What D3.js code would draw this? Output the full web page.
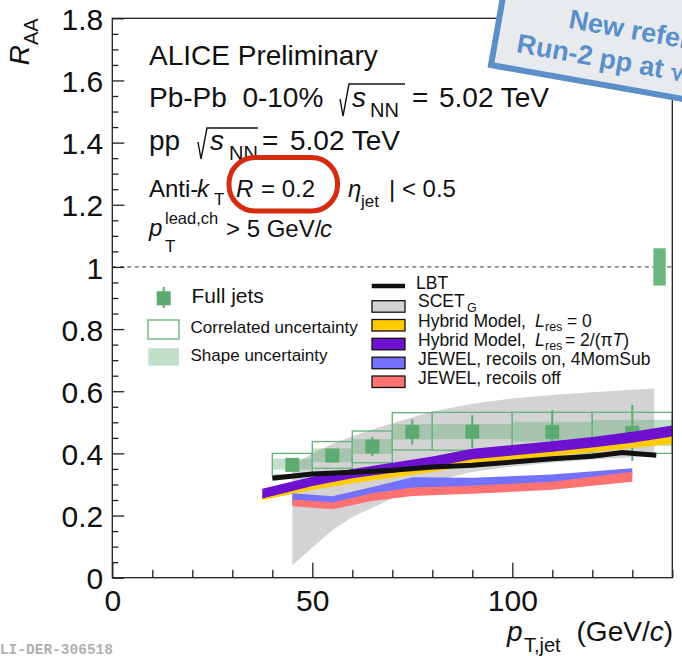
<!DOCTYPE html>
<html>
<head>
<meta charset="utf-8">
<script src="https://cdn.jsdelivr.net/npm/d3@7"></script>
<style>
  body { margin: 0; background: #fff; }
  svg { display: block; }
</style>
</head>
<body>
<svg id="chart" width="682" height="656"></svg>
<script>
// ---- Full-jet R_AA, 0-10% Pb-Pb, R = 0.2 ----
const binEdges = [40, 50, 60, 70, 80, 100, 120, 140];
const ptJet    = [45, 55, 65, 75, 90, 110, 130];
const raa      = [0.363, 0.393, 0.422, 0.469, 0.470, 0.469, 0.466];
const statErr  = [0.008, 0.012, 0.031, 0.040, 0.053, 0.070, 0.090];
const corrLow  = [0.330, 0.352, 0.370, 0.411, 0.410, 0.402, 0.400];
const corrHigh = [0.400, 0.438, 0.472, 0.531, 0.532, 0.532, 0.532];
const shapeLow  = [0.348, 0.372, 0.398, 0.445, 0.446, 0.438, 0.424];
const shapeHigh = [0.383, 0.416, 0.446, 0.494, 0.494, 0.502, 0.508];

// normalisation uncertainty at R_AA = 1
const normX = [135.25, 138.35];
const normY = [0.94, 1.06];

// ---- model curves ----
const lbtPt  = [40, 50, 60, 70, 80, 90, 100, 110, 120, 127.5, 136];
const lbtVal = [0.320, 0.334, 0.339, 0.346, 0.356, 0.362, 0.372, 0.383, 0.391, 0.403, 0.394];

const scetPt = [45, 50, 55, 60, 65, 70, 80, 90, 100, 110, 120, 135.5];
const scetLo = [0.040, 0.097, 0.153, 0.195, 0.225, 0.255, 0.310, 0.340, 0.358, 0.370, 0.380, 0.392];
const scetHi = [0.360, 0.400, 0.430, 0.455, 0.477, 0.497, 0.535, 0.560, 0.577, 0.588, 0.597, 0.609];

const hybPt   = [37.5, 50, 60, 70, 80, 90, 100, 110, 120, 130, 140];
const hyb0Lo  = [0.250, 0.282, 0.304, 0.322, 0.340, 0.362, 0.377, 0.391, 0.404, 0.417, 0.430];
const hyb0Hi  = [0.280, 0.312, 0.334, 0.354, 0.372, 0.394, 0.409, 0.423, 0.436, 0.449, 0.462];
const hyb2Lo  = [0.255, 0.295, 0.320, 0.338, 0.356, 0.381, 0.393, 0.405, 0.419, 0.434, 0.454];
const hyb2Hi  = [0.286, 0.325, 0.350, 0.370, 0.390, 0.415, 0.427, 0.439, 0.453, 0.470, 0.490];

const jewelPt    = [45, 55, 65, 75, 90, 110, 130];
const jewelOnLo  = [0.240, 0.230, 0.255, 0.280, 0.285, 0.298, 0.330];
const jewelOnHi  = [0.272, 0.262, 0.292, 0.323, 0.322, 0.332, 0.352];
const jewelOffLo = [0.230, 0.220, 0.247, 0.263, 0.270, 0.283, 0.309];
const jewelOffHi = [0.252, 0.242, 0.272, 0.290, 0.296, 0.309, 0.341];

// ---- axis ticks ----
const yMajor = [0, 0.2, 0.4, 0.6, 0.8, 1.0, 1.2, 1.4, 1.6, 1.8];
const xMajor = [0, 50, 100];

// ---- colours ----
const GREEN = "#5eab72";
const GREEN_LINE = "#6ab67e";
const C_SCET = "#d3d3d3";
const C_HYB0 = "#ffcc00";
const C_HYB2 = "#6d10cf";
const C_JON  = "#7272ff";
const C_JOFF = "#ff7272";
const FONT = "'Liberation Sans', Arial, Helvetica, sans-serif";

const svg = d3.select("#chart");
const x = d3.scaleLinear().domain([0, 140]).range([112.3, 672.3]);
const y = d3.scaleLinear().domain([0, 1.8]).range([577.7, 18.3]);

const band = d3.area().x(d => x(d.x)).y0(d => y(d.lo)).y1(d => y(d.hi));
const zipBand = (xs, lo, hi) => xs.map((v, i) => ({ x: v, lo: lo[i], hi: hi[i] }));

// reference line at R_AA = 1
svg.append("line")
  .attr("x1", x(0)).attr("x2", x(140))
  .attr("y1", y(1)).attr("y2", y(1))
  .attr("stroke", "#333").attr("stroke-width", 1)
  .attr("stroke-dasharray", "4,3.5");

// SCET_G band (drawn underneath everything)
svg.append("path").datum(zipBand(scetPt, scetLo, scetHi))
  .attr("d", band).attr("fill", C_SCET);

// data: shape uncertainty, correlated boxes, markers
const bins = ptJet.map((p, i) => ({
  x0: binEdges[i], x1: binEdges[i + 1], p, v: raa[i], e: statErr[i],
  cl: corrLow[i], ch: corrHigh[i], sl: shapeLow[i], sh: shapeHigh[i]
}));

svg.append("g").selectAll("rect").data(bins).join("rect")
  .attr("x", d => x(d.x0)).attr("width", d => x(d.x1) - x(d.x0))
  .attr("y", d => y(d.sh)).attr("height", d => y(d.sl) - y(d.sh))
  .attr("fill", GREEN).attr("fill-opacity", 0.38);

svg.append("g").selectAll("rect").data(bins).join("rect")
  .attr("x", d => x(d.x0)).attr("width", d => x(d.x1) - x(d.x0))
  .attr("y", d => y(d.ch)).attr("height", d => y(d.cl) - y(d.ch))
  .attr("fill", "none").attr("stroke", GREEN_LINE).attr("stroke-width", 1.4);

svg.append("g").selectAll("line").data(bins).join("line")
  .attr("x1", d => x(d.p)).attr("x2", d => x(d.p))
  .attr("y1", d => y(d.v + d.e)).attr("y2", d => y(d.v - d.e))
  .attr("stroke", GREEN).attr("stroke-width", 2);

const MS = 14;
svg.append("g").selectAll("rect").data(bins).join("rect")
  .attr("x", d => x(d.p) - MS / 2).attr("y", d => y(d.v) - MS / 2)
  .attr("width", MS).attr("height", MS).attr("fill", GREEN);

// normalisation box
svg.append("rect")
  .attr("x", x(normX[0])).attr("width", x(normX[1]) - x(normX[0]))
  .attr("y", y(normY[1])).attr("height", y(normY[0]) - y(normY[1]))
  .attr("fill", "#6cb780");

// model bands
svg.append("path").datum(zipBand(hybPt, hyb0Lo, hyb0Hi)).attr("d", band).attr("fill", C_HYB0);
svg.append("path").datum(zipBand(hybPt, hyb2Lo, hyb2Hi)).attr("d", band).attr("fill", C_HYB2);
svg.append("path").datum(zipBand(jewelPt, jewelOnLo, jewelOnHi)).attr("d", band).attr("fill", C_JON);
svg.append("path").datum(zipBand(jewelPt, jewelOffLo, jewelOffHi)).attr("d", band).attr("fill", C_JOFF);

// LBT line
svg.append("path").datum(lbtPt.map((p, i) => ({ x: p, v: lbtVal[i] })))
  .attr("d", d3.line().x(d => x(d.x)).y(d => y(d.v)))
  .attr("fill", "none").attr("stroke", "#111").attr("stroke-width", 5);

// ---- axes ----
const AX = "#222";
const yMinor = d3.range(0, 37).map(i => i * 0.05).filter(v => Math.abs(v * 5 - Math.round(v * 5)) > 1e-6);
const xMinor = d3.range(0, 15).map(i => i * 10).filter(v => v % 50 !== 0);

const gy = svg.append("g").attr("transform", `translate(${x(0)},0)`)
  .call(d3.axisLeft(y).tickValues(yMajor).tickSize(-12).tickPadding(9).tickFormat(d3.format("~g")));
gy.append("g").call(d3.axisLeft(y).tickValues(yMinor).tickSize(-6).tickFormat(""));
const gx = svg.append("g").attr("transform", `translate(0,${y(0)})`)
  .call(d3.axisBottom(x).tickValues(xMajor).tickSize(-15).tickPadding(12.5).tickFormat(d3.format("d")));
gx.append("g").call(d3.axisBottom(x).tickValues(xMinor).tickSize(-8).tickFormat(""));

[gx, gy].forEach(g => {
  g.selectAll(".domain").remove();
  g.selectAll("line").attr("stroke", AX).attr("stroke-width", 1.3);
  g.selectAll("text").attr("font-size", 30).attr("font-family", FONT).attr("fill", "#111");
});
gy.selectAll("text").attr("dy", "0.37em");

// frame
svg.append("rect")
  .attr("x", x(0)).attr("y", y(1.8))
  .attr("width", x(140) - x(0)).attr("height", y(0) - y(1.8))
  .attr("fill", "none").attr("stroke", AX).attr("stroke-width", 1.3);

// axis titles
svg.append("text")
  .attr("transform", `translate(29,${y(1.8)}) rotate(-90)`)
  .attr("text-anchor", "end").attr("font-family", FONT).attr("fill", "#111")
  .call(t => {
    t.append("tspan").attr("font-size", 28).attr("font-style", "italic").text("R");
    t.append("tspan").attr("font-size", 20).attr("dy", 9).text("AA");
  });

const xt = svg.append("g").attr("font-family", FONT).attr("fill", "#111");
xt.append("text").attr("x", 507).attr("y", 641).attr("font-size", 28).attr("font-style", "italic").text("p");
xt.append("text").attr("x", 524).attr("y", 652).attr("font-size", 20).text("T,jet");
xt.append("text").attr("x", 673).attr("y", 641).attr("font-size", 28).attr("text-anchor", "end")
  .call(t => {
    t.append("tspan").text("(GeV/");
    t.append("tspan").attr("font-style", "italic").text("c");
    t.append("tspan").text(")");
  });

// ---- header text ----
const hdr = svg.append("g").attr("font-family", FONT).attr("fill", "#111");
function txt(g, s, xx, yy, size, italic) {
  return g.append("text").attr("x", xx).attr("y", yy).attr("font-size", size)
    .attr("font-style", italic ? "italic" : "normal").text(s);
}
function radical(g, x0, x1, base, h) {
  g.append("path")
    .attr("d", `M${x0},${base - 8} L${x0 + 3},${base + 9} L${x0 + 9},${base - h} L${x1},${base - h}`)
    .attr("fill", "none").attr("stroke", "#111").attr("stroke-width", 1.4);
}

txt(hdr, "ALICE Preliminary", 149, 65, 28);

txt(hdr, "Pb-Pb  0-10%", 149, 107, 28).attr("xml:space", "preserve");
radical(hdr, 340, 405, 107, 23);
txt(hdr, "s", 352, 107, 28, true);
txt(hdr, "NN", 370, 117, 20);
txt(hdr, "=", 412, 107, 28);
txt(hdr, "5.02 TeV", 439, 107, 28);

txt(hdr, "pp", 149, 150, 28);
radical(hdr, 198, 258, 150, 22);
txt(hdr, "s", 210, 150, 28, true);
txt(hdr, "NN", 229, 160, 20);
txt(hdr, "=", 262, 150, 28);
txt(hdr, "5.02 TeV", 290, 150, 28);

txt(hdr, "Anti-", 149, 197, 24);
txt(hdr, "k", 197, 197, 24, true);
txt(hdr, "T", 214, 205, 17);
txt(hdr, "R", 236, 197, 24, true);
txt(hdr, "= 0.2", 261, 197, 24);
txt(hdr, "\u03b7", 348, 197, 24, true);
txt(hdr, "jet", 361, 207, 17);
txt(hdr, "| < 0.5", 389, 197, 24).attr("xml:space", "preserve");

txt(hdr, "p", 149, 236, 24, true);
txt(hdr, "lead,ch", 165, 224, 16.5);
txt(hdr, "T", 165, 252, 17);
txt(hdr, "> 5 GeV/", 226, 237, 24);
txt(hdr, "c", 320, 237, 24, true);

// ---- legend: data ----
const lg = svg.append("g").attr("font-family", FONT).attr("fill", "#111");
lg.append("line").attr("x1", 163.7).attr("x2", 163.7).attr("y1", 287).attr("y2", 308)
  .attr("stroke", GREEN).attr("stroke-width", 2);
lg.append("rect").attr("x", 163.7 - 7).attr("y", 298.3 - 7).attr("width", 14).attr("height", 14).attr("fill", GREEN);
txt(lg, "Full jets", 191.5, 302.5, 21);
lg.append("rect").attr("x", 148).attr("y", 320).attr("width", 31).attr("height", 19)
  .attr("fill", "none").attr("stroke", GREEN_LINE).attr("stroke-width", 1.4);
txt(lg, "Correlated uncertainty", 190.5, 332.7, 17);
lg.append("rect").attr("x", 148.3).attr("y", 348.3).attr("width", 30.7).attr("height", 17.4)
  .attr("fill", GREEN).attr("fill-opacity", 0.38);
txt(lg, "Shape uncertainty", 190.5, 360.7, 17);

// ---- legend: models ----
const lm = svg.append("g").attr("font-family", FONT).attr("fill", "#111");
lm.append("line").attr("x1", 371.7).attr("x2", 405).attr("y1", 286).attr("y2", 286)
  .attr("stroke", "#111").attr("stroke-width", 4.3);
txt(lm, "LBT", 416, 288.5, 17.5);
const modelBoxes = [
  { c: C_SCET, y: 300.7 }, { c: C_HYB0, y: 319.5 }, { c: C_HYB2, y: 338.3 },
  { c: C_JON, y: 357.2 }, { c: C_JOFF, y: 376 }
];
lm.selectAll("rect").data(modelBoxes).join("rect")
  .attr("x", 372).attr("y", d => d.y).attr("width", 33).attr("height", 11.5)
  .attr("fill", d => d.c).attr("stroke", "#111").attr("stroke-width", 1.3);
txt(lm, "SCET", 418, 306.5, 17.5);
txt(lm, "G", 467, 312, 12.5);
txt(lm, "Hybrid Model, ", 418, 327, 17.5).attr("xml:space", "preserve");
txt(lm, "L", 535, 327, 17.5, true);
txt(lm, "res", 545, 331, 12.5);
txt(lm, "= 0", 567, 327, 17.5);
txt(lm, "Hybrid Model, ", 418, 346, 17.5).attr("xml:space", "preserve");
txt(lm, "L", 535, 346, 17.5, true);
txt(lm, "res", 545, 350, 12.5);
lm.append("text").attr("x", 565).attr("y", 346).attr("font-size", 17.5)
  .call(t => {
    t.append("tspan").text("= 2/(\u03c0");
    t.append("tspan").attr("font-style", "italic").text("T");
    t.append("tspan").text(")");
  });
txt(lm, "JEWEL, recoils on, 4MomSub", 418, 365, 17.5);
txt(lm, "JEWEL, recoils off", 418, 383.5, 17.5);

// ---- highlight around the jet radius ----
svg.append("rect")
  .attr("x", 229).attr("y", 157.5).attr("width", 108.5).attr("height", 53.5)
  .attr("rx", 26).attr("ry", 26)
  .attr("fill", "none").attr("stroke", "#d52b10").attr("stroke-width", 5);

// ---- note box ----
const note = svg.append("g").attr("transform", "translate(491,65) rotate(10)");
note.append("rect").attr("x", 3).attr("y", -107).attr("width", 330).attr("height", 110)
  .attr("fill", "#9a9a9a").attr("opacity", 0.45);
note.append("rect").attr("x", 0).attr("y", -110).attr("width", 330).attr("height", 110)
  .attr("fill", "#e8ebee").attr("stroke", "#5b8fc9").attr("stroke-width", 6);
note.append("text").attr("x", 69).attr("y", -50).attr("font-family", FONT)
  .attr("font-weight", "bold").attr("font-size", 27).attr("fill", "#5a8fcb").text("New reference:");
note.append("text").attr("x", 22).attr("y", -17).attr("font-family", FONT)
  .attr("font-weight", "bold").attr("font-size", 27).attr("fill", "#5a8fcb").text("Run-2 pp at \u221As = 5.02 TeV");

// ---- figure id ----
svg.append("text").attr("x", 113).attr("y", 654).attr("text-anchor", "end")
  .attr("font-family", "'Liberation Mono', 'DejaVu Sans Mono', monospace")
  .attr("font-weight", "bold").attr("font-size", 14.5).attr("fill", "#b0b0b0")
  .text("ALI-DER-306518");
</script>
</body>
</html>
